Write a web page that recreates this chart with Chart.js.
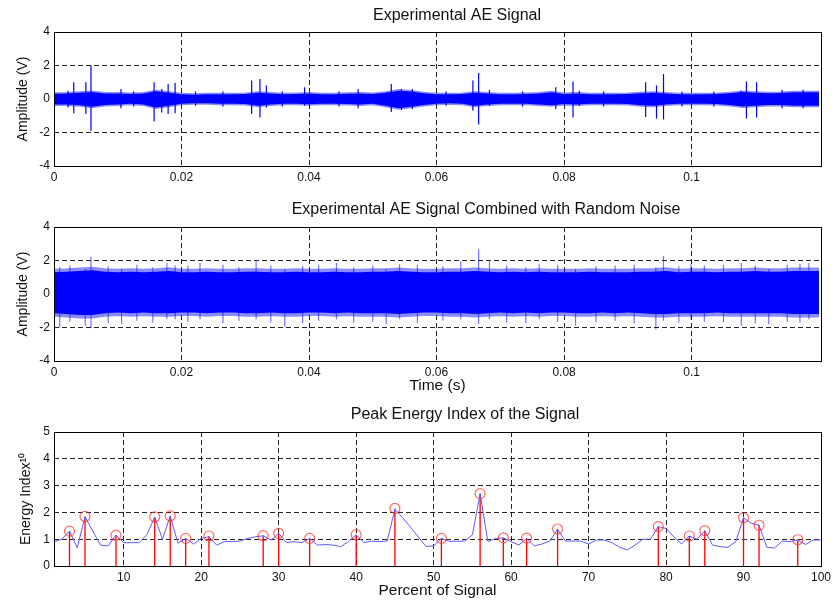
<!DOCTYPE html>
<html>
<head>
<meta charset="utf-8">
<script src="https://cdn.jsdelivr.net/npm/chart.js@4.4.1/dist/chart.umd.min.js"></script>
<style>
  body { margin: 0; background: #fff; }
  #wrap { position: relative; width: 837px; height: 600px; }
  canvas { position: absolute; left: 0; }
</style>
</head>
<body>
<div id="wrap">
  <canvas id="aeChart" width="837" height="195" style="top:0"></canvas>
  <canvas id="noiseChart" width="837" height="200" style="top:195px"></canvas>
  <canvas id="energyChart" width="837" height="205" style="top:395px"></canvas>
</div>
<script>
// ---- tick labels
const timeTicks = [0, 0.02, 0.04, 0.06, 0.08, 0.1];
const ampTicks = [-4, -2, 0, 2, 4];
const pctTicks = [10, 20, 30, 40, 50, 60, 70, 80, 90, 100];
const energyTicks = [0, 1, 2, 3, 4, 5];

// ---- signal envelope sample times (s)
const envTime = [0, 0.002, 0.004, 0.006, 0.008, 0.01, 0.012, 0.014, 0.016, 0.018,
  0.02, 0.022, 0.024, 0.026, 0.028, 0.03, 0.032, 0.034, 0.036, 0.038,
  0.04, 0.042, 0.044, 0.046, 0.048, 0.05, 0.052, 0.054, 0.056, 0.058,
  0.06, 0.062, 0.064, 0.066, 0.068, 0.07, 0.072, 0.074, 0.076, 0.078,
  0.08, 0.082, 0.084, 0.086, 0.088, 0.09, 0.092, 0.094, 0.096, 0.098,
  0.1, 0.102, 0.104, 0.106, 0.108, 0.11, 0.112, 0.114, 0.116, 0.118, 0.12];

// ---- experimental AE signal: band envelope (V)
const aeUpper = [0.32, 0.33, 0.38, 0.42, 0.33, 0.33, 0.3, 0.33, 0.46, 0.38,
  0.28, 0.26, 0.28, 0.28, 0.28, 0.3, 0.38, 0.33, 0.28, 0.3,
  0.33, 0.28, 0.28, 0.31, 0.33, 0.3, 0.38, 0.5, 0.45, 0.35,
  0.28, 0.28, 0.3, 0.38, 0.33, 0.28, 0.28, 0.3, 0.33, 0.4,
  0.3, 0.33, 0.28, 0.28, 0.28, 0.3, 0.35, 0.38, 0.33, 0.28,
  0.28, 0.28, 0.3, 0.35, 0.42, 0.38, 0.35, 0.36, 0.4, 0.4, 0.4];
const aeLower = [-0.33, -0.33, -0.38, -0.46, -0.36, -0.33, -0.28, -0.33, -0.5, -0.4,
  -0.28, -0.26, -0.26, -0.28, -0.28, -0.3, -0.4, -0.33, -0.28, -0.28,
  -0.31, -0.28, -0.28, -0.3, -0.33, -0.28, -0.4, -0.55, -0.46, -0.36,
  -0.28, -0.26, -0.28, -0.4, -0.33, -0.28, -0.28, -0.28, -0.33, -0.38,
  -0.3, -0.33, -0.28, -0.28, -0.28, -0.3, -0.38, -0.4, -0.33, -0.28,
  -0.28, -0.28, -0.3, -0.36, -0.45, -0.4, -0.36, -0.36, -0.4, -0.4, -0.4];
// bursts sticking out of the band
const aeSpikeTime = [0.0031, 0.005, 0.0058, 0.0105, 0.0157, 0.0169, 0.0179, 0.019, 0.031, 0.0323,
  0.0333, 0.0393, 0.0477, 0.0529, 0.0657, 0.0666, 0.0683, 0.0787, 0.0814, 0.0824,
  0.0928, 0.0945, 0.0956, 0.1077, 0.1086, 0.1102,
  0.0022, 0.0125, 0.0222, 0.0265, 0.0358, 0.0447, 0.0545, 0.0562, 0.0615, 0.0735,
  0.0862, 0.0985, 0.1035, 0.1142, 0.1175];
const aeSpikeHigh = [1.0, 1.0, 2.0, 0.6, 1.0, 0.6, 0.9, 0.95, 1.1, 1.2,
  0.8, 0.7, 0.6, 0.9, 1.1, 1.55, 0.55, 0.7, 1.05, 0.5,
  1.0, 0.8, 1.5, 0.5, 1.05, 1.0,
  0.5, 0.45, 0.45, 0.45, 0.45, 0.45, 0.6, 0.6, 0.45, 0.45,
  0.45, 0.45, 0.45, 0.55, 0.55];
const aeSpikeLow = [-0.85, -0.9, -1.9, -0.55, -1.35, -0.8, -0.9, -0.85, -0.9, -1.1,
  -0.5, -0.4, -0.55, -0.77, -0.7, -1.52, -0.4, -0.6, -1.1, -0.4,
  -1.07, -1.17, -1.23, -0.4, -1.17, -1.1,
  -0.5, -0.45, -0.4, -0.45, -0.45, -0.45, -0.65, -0.6, -0.4, -0.45,
  -0.45, -0.45, -0.45, -0.55, -0.55];

// ---- AE signal combined with random noise: band envelope (V)
const noisyUpper = [1.3, 1.33, 1.38, 1.42, 1.33, 1.3, 1.33, 1.3, 1.33, 1.38,
  1.3, 1.3, 1.33, 1.3, 1.3, 1.33, 1.33, 1.3, 1.3, 1.33,
  1.3, 1.3, 1.33, 1.3, 1.3, 1.33, 1.33, 1.38, 1.33, 1.3,
  1.3, 1.33, 1.33, 1.38, 1.33, 1.3, 1.33, 1.3, 1.33, 1.3,
  1.3, 1.3, 1.33, 1.3, 1.3, 1.3, 1.33, 1.33, 1.38, 1.3,
  1.33, 1.33, 1.3, 1.33, 1.33, 1.38, 1.33, 1.33, 1.38, 1.38, 1.38];
const noisyLower = [-1.15, -1.2, -1.25, -1.25, -1.15, -1.1, -1.15, -1.1, -1.15, -1.15,
  -1.1, -1.1, -1.15, -1.1, -1.1, -1.15, -1.15, -1.1, -1.15, -1.15,
  -1.1, -1.1, -1.15, -1.1, -1.15, -1.15, -1.15, -1.2, -1.15, -1.1,
  -1.1, -1.15, -1.15, -1.2, -1.15, -1.1, -1.15, -1.1, -1.15, -1.1,
  -1.1, -1.15, -1.15, -1.1, -1.15, -1.1, -1.15, -1.2, -1.2, -1.15,
  -1.15, -1.15, -1.1, -1.15, -1.15, -1.15, -1.15, -1.15, -1.2, -1.2, -1.2];
const noisySpikeTime = [0.0009, 0.0049, 0.0058, 0.0106, 0.0177, 0.019, 0.0229, 0.0317, 0.0362, 0.0443,
  0.0521, 0.0542, 0.0638, 0.0666, 0.0683, 0.0761, 0.0818, 0.0944, 0.0956, 0.0999,
  0.1078, 0.1121, 0.1184,
  0.0025, 0.0085, 0.013, 0.0155, 0.021, 0.0265, 0.029, 0.034, 0.039, 0.0415,
  0.047, 0.05, 0.057, 0.061, 0.071, 0.074, 0.079, 0.085, 0.088, 0.091,
  0.098, 0.102, 0.105, 0.11, 0.115, 0.117];
const noisySpikeHigh = [1.6, 1.5, 2.23, 1.5, 1.85, 1.7, 1.85, 1.95, 1.5, 1.85,
  1.5, 1.78, 1.95, 2.67, 1.95, 1.78, 1.5, 1.6, 2.27, 1.78,
  1.85, 1.5, 1.85,
  1.7, 1.65, 1.75, 1.6, 1.7, 1.75, 1.6, 1.7, 1.65, 1.75,
  1.6, 1.7, 1.75, 1.65, 1.7, 1.6, 1.75, 1.65, 1.7, 1.75,
  1.65, 1.7, 1.75, 1.7, 1.75, 1.8];
const noisySpikeLow = [-2.0, -1.9, -2.05, -1.8, -1.5, -1.5, -1.5, -1.5, -1.95, -1.5,
  -1.8, -1.5, -1.5, -1.8, -1.5, -1.5, -1.9, -2.1, -1.6, -1.5,
  -1.9, -1.8, -1.5,
  -1.65, -1.75, -1.6, -1.7, -1.65, -1.75, -1.6, -1.7, -1.75, -1.6,
  -1.7, -1.65, -1.75, -1.6, -1.7, -1.75, -1.65, -1.7, -1.6, -1.75,
  -1.7, -1.65, -1.7, -1.75, -1.65, -1.7];

// ---- peak energy index
const percent = [1, 2, 3, 4, 5, 6, 7, 8, 9, 10, 11, 12, 13, 14, 15, 16, 17, 18, 19, 20,
  21, 22, 23, 24, 25, 26, 27, 28, 29, 30, 31, 32, 33, 34, 35, 36, 37, 38, 39, 40,
  41, 42, 43, 44, 45, 46, 47, 48, 49, 50, 51, 52, 53, 54, 55, 56, 57, 58, 59, 60,
  61, 62, 63, 64, 65, 66, 67, 68, 69, 70, 71, 72, 73, 74, 75, 76, 77, 78, 79, 80,
  81, 82, 83, 84, 85, 86, 87, 88, 89, 90, 91, 92, 93, 94, 95, 96, 97, 98, 99, 100];
const energy = [0.91, 1.0, 1.3, 0.68, 1.84, 1.3, 0.78, 0.75, 1.15, 0.87,
  0.87, 0.87, 1.18, 1.82, 1.0, 1.87, 0.85, 1.03, 0.82, 1.03,
  1.09, 0.78, 0.91, 0.91, 0.93, 1.03, 1.09, 1.13, 0.97, 1.22,
  0.87, 0.91, 0.87, 1.03, 0.78, 0.8, 0.78, 0.72, 0.91, 1.16,
  0.87, 0.93, 0.91, 0.93, 2.11, 1.8, 1.45, 1.1, 0.73, 0.75,
  1.03, 0.92, 0.92, 0.93, 1.16, 2.7, 0.91, 1.03, 1.05, 0.91,
  0.78, 1.03, 0.75, 0.82, 0.93, 1.37, 0.93, 0.93, 0.93, 0.82,
  0.97, 0.97, 0.87, 0.7, 0.6, 0.78, 1.0, 1.0, 1.47, 1.4,
  1.09, 0.82, 1.12, 1.0, 1.31, 0.78, 0.72, 0.7, 0.91, 1.8,
  1.59, 1.53, 0.7, 0.67, 0.93, 0.91, 0.97, 0.8, 0.97, 0.97];
const peakPct = [3, 5, 9, 14, 16, 18, 21, 28, 30, 34, 40, 45, 51, 56, 59, 62, 66, 79, 83, 85, 90, 92, 97];
const peakEnergy = [1.3, 1.85, 1.15, 1.83, 1.87, 1.03, 1.12, 1.13, 1.22, 1.03, 1.17, 2.15,
  1.03, 2.7, 1.05, 1.04, 1.38, 1.47, 1.12, 1.32, 1.8, 1.52, 0.98];

Chart.defaults.font.family = '"Liberation Sans", Arial, sans-serif';
Chart.defaults.color = '#111';

const FONT = '"Liberation Sans", Arial, sans-serif';

// box round the plot area + title text like the matlab subplots
const framePlugin = {
    id: 'frame',
    afterDraw: function (chart, args, opts) {
        const { ctx, chartArea } = chart;
        ctx.save();
        ctx.strokeStyle = '#000';
        ctx.lineWidth = 1;
        ctx.setLineDash([]);
        ctx.strokeRect(Math.round(chartArea.left) + 0.5, Math.round(chartArea.top) + 0.5,
            Math.round(chartArea.right - chartArea.left), Math.round(chartArea.bottom - chartArea.top));
        if (opts.text) {
            ctx.fillStyle = '#111';
            ctx.font = '16px ' + FONT;
            ctx.textAlign = 'center';
            ctx.textBaseline = 'middle';
            ctx.fillText(opts.text, opts.x, opts.y);
        }
        ctx.restore();
    }
};

const pairs = (xs, ys) => xs.map((x, i) => ({ x: x, y: ys[i] }));

const stems = (xs, lows, highs) => {
    let out = [];
    xs.forEach((x, i) => {
        out.push({ x: x, y: lows[i] }, { x: x, y: highs[i] }, { x: x, y: null });
    });
    return out;
};

const axisOpts = function (cfg) {
    return {
        type: 'linear',
        min: cfg.min,
        max: cfg.max,
        afterBuildTicks: (scale) => { scale.ticks = cfg.ticks.map(v => ({ value: v })); },
        afterFit: (scale) => {
            if (cfg.width) scale.width = cfg.width;
            if (cfg.height) scale.height = cfg.height;
        },
        grid: {
            color: 'rgba(0,0,0,0.85)',
            lineWidth: 1,
            drawTicks: false,
        },
        border: {
            display: false,
            dash: [5, 3],
        },
        ticks: {
            padding: 4,
            font: { size: 12 },
            color: '#111',
            maxRotation: 0,
            autoSkip: false,
            callback: (v) => String(Math.round(v * 1000) / 1000),
        },
        title: cfg.title ? {
            display: true,
            text: cfg.title,
            font: { size: cfg.titleSize || 14 },
            color: '#111',
            padding: cfg.titlePad || 0,
        } : { display: false },
    };
};

const baseOptions = (pad, scales, frame) => ({
    responsive: false,
    animation: false,
    events: [],
    layout: { padding: pad },
    plugins: {
        legend: { display: false },
        tooltip: { enabled: false },
        frame: frame,
    },
    scales: scales,
});

const signalChart = (id, upper, lower, spikeT, spikeLo, spikeHi, fringe, spikeColor, frame, xTitle, xHeight) => {
    new Chart(document.getElementById(id), {
        type: 'line',
        data: {
            datasets: [
                {
                    data: stems(spikeT, spikeLo, spikeHi),
                    borderColor: spikeColor,
                    borderWidth: 1.2,
                    pointRadius: 0,
                    spanGaps: false,
                    fill: false,
                },
                {
                    data: pairs(envTime, upper),
                    borderColor: 'rgba(0,0,255,0.45)',
                    borderWidth: fringe,
                    pointRadius: 0,
                    fill: false,
                },
                {
                    data: pairs(envTime, lower),
                    borderColor: 'rgba(0,0,255,0.45)',
                    borderWidth: fringe,
                    backgroundColor: '#0000ff',
                    pointRadius: 0,
                    fill: '-1',
                },
            ],
        },
        options: baseOptions({ top: 32, right: 16, left: 0, bottom: 0 }, {
            x: axisOpts({ min: 0, max: 0.1203, ticks: timeTicks, height: xHeight, title: xTitle, titleSize: 15.5 }),
            y: axisOpts({ min: -4, max: 4, ticks: ampTicks, width: 54, title: 'Amplitude (V)', titlePad: { top: 15 } }),
        }, frame),
        plugins: [framePlugin],
    });
};

signalChart('aeChart', aeUpper, aeLower, aeSpikeTime, aeSpikeLow, aeSpikeHigh, 3, '#0000ff',
    { text: 'Experimental AE Signal', x: 457, y: 16 }, null, 29);

signalChart('noiseChart', noisyUpper, noisyLower, noisySpikeTime, noisySpikeLow, noisySpikeHigh, 7, 'rgba(0,0,255,0.55)',
    { text: 'Experimental AE Signal Combined with Random Noise', x: 486, y: 15 }, 'Time (s)', 34);

new Chart(document.getElementById('energyChart'), {
    type: 'line',
    data: {
        datasets: [
            {
                data: pairs(peakPct, peakEnergy),
                showLine: false,
                pointStyle: 'circle',
                pointRadius: 5,
                pointBorderWidth: 1.2,
                pointBorderColor: 'rgba(255,40,40,0.7)',
                pointBackgroundColor: 'rgba(0,0,0,0)',
            },
            {
                data: pairs(percent, energy),
                borderColor: '#5a5aff',
                borderWidth: 1,
                pointRadius: 0,
                fill: false,
            },
            {
                data: stems(peakPct, peakPct.map(() => 0), peakEnergy),
                borderColor: '#ff0000',
                borderWidth: 1.3,
                pointRadius: 0,
                spanGaps: false,
                fill: false,
            },
        ],
    },
    options: baseOptions({ top: 37, right: 16, left: 0, bottom: 0 }, {
        x: axisOpts({ min: 1, max: 100, ticks: pctTicks, height: 34, title: 'Percent of Signal', titleSize: 15.5 }),
        y: axisOpts({ min: 0, max: 5, ticks: energyTicks, width: 54, title: 'Energy Index\u00b9\u2070', titlePad: { top: 18 } }),
    }, { text: 'Peak Energy Index of the Signal', x: 465, y: 20 }),
    plugins: [framePlugin],
});
</script>
</body>
</html>
